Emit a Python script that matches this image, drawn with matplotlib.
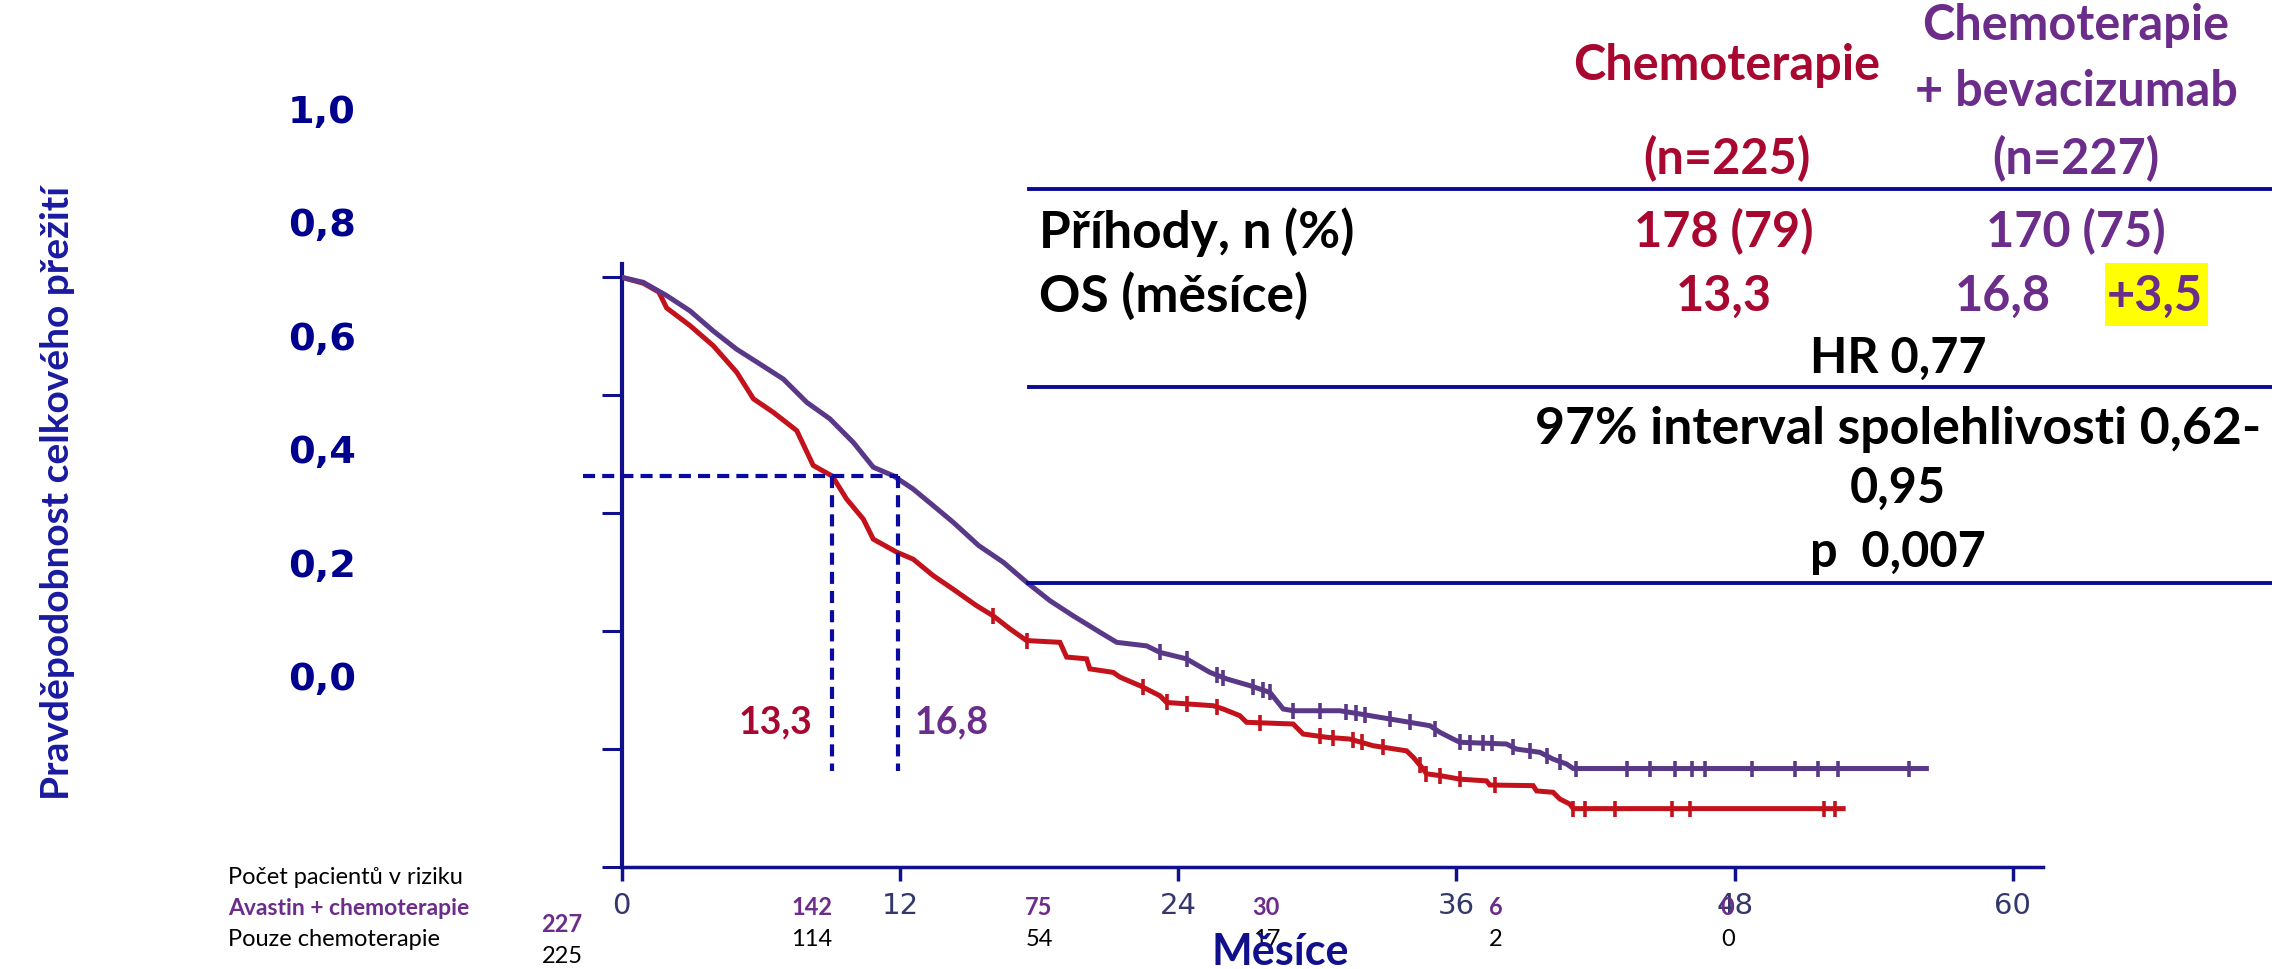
# Kaplan-Meier OS chart (chemoterapie vs chemoterapie + bevacizumab)
import numpy as np
import matplotlib.pyplot as plt
import matplotlib.transforms as mtransforms
from matplotlib.patches import Rectangle
from matplotlib.lines import Line2D

W, H = 2272, 970

# curve (months, survival on axis scale)
chemo_t = [0, 0.93, 1.6, 1.94, 2.95, 3.95, 4.96, 5.68, 6.54, 7.55, 8.26, 9.08, 9.70,
           10.42, 10.85, 11.86, 12.57, 13.44, 14.3, 15.31, 16.02, 16.74, 17.46, 18.9,
           19.19, 20.05, 20.19, 21.2, 21.49, 22.35, 23.21, 23.5, 25.51, 25.94, 26.66,
           26.95, 28.96, 29.39, 30.4, 31.4, 32.41, 33.85, 34.14, 34.57, 34.71, 35.29,
           36.15, 37.3, 37.44, 39.31, 39.46, 40.17, 40.46, 40.89, 41.04, 52.68]
chemo_s = [1.0, 0.99, 0.975, 0.948, 0.918, 0.884, 0.839, 0.794, 0.771, 0.740, 0.681,
           0.663, 0.624, 0.590, 0.556, 0.534, 0.522, 0.494, 0.471, 0.443, 0.426, 0.404,
           0.384, 0.381, 0.356, 0.353, 0.336, 0.330, 0.322, 0.3075, 0.2905, 0.279,
           0.2735, 0.268, 0.2566, 0.2454, 0.2425, 0.2255, 0.220, 0.217, 0.2057, 0.197,
           0.186, 0.166, 0.158, 0.155, 0.149, 0.146, 0.139, 0.138, 0.129, 0.1267,
           0.1153, 0.1068, 0.099, 0.099]
chemo_cens = [16.02, 17.46, 22.49, 23.5, 24.36, 25.66, 27.52, 30.11, 30.69, 31.55,
              31.91, 32.84, 34.42, 34.71, 35.29, 36.15, 37.66, 41.04, 41.54, 42.83,
              45.28, 46.07, 51.85, 52.33]

bev_t = [0, 0.93, 1.94, 2.95, 3.95, 4.96, 5.96, 6.97, 7.98, 8.98, 9.99, 10.85, 11.71,
         12.57, 13.44, 14.3, 15.4, 16.46, 17.46, 18.47, 19.47, 20.63, 21.35, 22.64,
         23.21, 24.36, 25.37, 26.09, 27.1, 27.96, 28.53, 28.96, 30.97, 31.84, 33.13,
         34.86, 35.29, 35.86, 36.15, 38.16, 38.59, 39.6, 40.17, 40.75, 41.04, 56.27]
bev_s = [1.0, 0.9915, 0.969, 0.943, 0.909, 0.878, 0.853, 0.8275, 0.788, 0.760, 0.720,
         0.678, 0.6636, 0.641, 0.6127, 0.5845, 0.545, 0.5167, 0.483, 0.4516, 0.426,
         0.398, 0.381, 0.375, 0.364, 0.353, 0.330, 0.319, 0.3075, 0.296, 0.268, 0.265,
         0.265, 0.2595, 0.251, 0.2396, 0.2284, 0.217, 0.2115, 0.2086, 0.200, 0.1945,
         0.183, 0.1747, 0.167, 0.167]
bev_cens = [23.21, 24.36, 25.66, 25.94, 27.24, 27.67, 27.96, 28.96, 30.11, 31.26,
            31.69, 32.05, 33.13, 33.99, 35.07, 36.15, 36.58, 37.15, 37.52, 38.45,
            39.17, 39.89, 40.46, 41.18, 43.34, 44.34, 45.42, 46.14, 46.71, 48.73,
            50.6, 51.61, 52.47, 55.5]

# median guide lines as drawn
median_level = 0.663
median_chemo_x = 9.09
median_bev_x = 11.91
guide_bottom = 0.162
guide_left = -1.67

x_ticks = [0, 12, 24, 36, 48, 60]
y_ticks = [0, 0.2, 0.4, 0.6, 0.8, 1.0]
y_labels_text = ['1,0', '0,8', '0,6', '0,4', '0,2', '0,0']

# at-risk table
risk_pos = [8.2, 18.0, 27.8, 37.7, 47.7]
risk_bev = [142, 75, 30, 6, 0]
risk_chemo = [114, 54, 17, 2, 0]
risk_bev0, risk_chemo0 = 227, 225

RED = '#c3121c'
PURPLE = '#5a3888'
RED_TXT = '#a8072f'
PUR_TXT = '#6b2c8a'
NAVY = '#10108c'
DASH = '#0a0aa0'
FONT = ['Lato', 'DejaVu Sans']

def fx(px):
    return px / W

def fy(py):
    return 1 - py / H

fig = plt.figure(figsize=(W / 100, H / 100), dpi=100)
fig.patch.set_facecolor('white')

ax = fig.add_axes([fx(621.7), fy(868), (2043 - 621.7) / W, (868 - 265) / H])
ax.set_xlim(0, 61.3)
ax.set_ylim(0, 1.0226)
for s in ['top', 'right']:
    ax.spines[s].set_visible(False)
ax.spines['left'].set_color(NAVY)
ax.spines['left'].set_linewidth(3)
ax.spines['bottom'].set_color(NAVY)
ax.spines['bottom'].set_linewidth(2.5)
ax.set_xticks(x_ticks)
ax.set_xticklabels([str(v) for v in x_ticks], fontsize=21, color='#33376a',
                   family='DejaVu Sans')
ax.set_yticks(y_ticks)
ax.set_yticklabels([])
ax.tick_params(axis='x', direction='out', length=10, width=2.5, color=NAVY, pad=7)
ax.tick_params(axis='y', direction='out', length=14.5, width=2.2, color=NAVY)

# curves
ax.plot(chemo_t, chemo_s, color=RED, lw=3.6, solid_joinstyle='miter', zorder=3)
ax.plot(bev_t, bev_s, color=PURPLE, lw=3.6, solid_joinstyle='miter', zorder=3)
ax.plot(chemo_cens, np.interp(chemo_cens, chemo_t, chemo_s), ls='none', marker='|',
        ms=12, mew=2.6, color=RED, zorder=4)
ax.plot(bev_cens, np.interp(bev_cens, bev_t, bev_s), ls='none', marker='|',
        ms=12, mew=2.6, color=PURPLE, zorder=4)

# median guides
dash = (0, (2.9, 1.7))
ax.plot([guide_left, median_bev_x], [median_level, median_level], color=DASH, lw=3,
        ls=dash, clip_on=False, zorder=5)
ax.plot([median_chemo_x, median_chemo_x], [median_level, guide_bottom], color=DASH,
        lw=3, ls=dash, zorder=5)
ax.plot([median_bev_x, median_bev_x], [median_level, guide_bottom], color=DASH,
        lw=3, ls=dash, zorder=5)
fig.text(fx(775), fy(722), '13,3', color=RED_TXT, fontsize=27, weight='bold',
         family=FONT, ha='center', va='center')
fig.text(fx(952), fy(722), '16,8', color=PUR_TXT, fontsize=27, weight='bold',
         family=FONT, ha='center', va='center')

# floating y labels and axis titles
for i, lab in enumerate(y_labels_text):
    fig.text(fx(322), fy(113 + i * 113.4), lab, color='#00008f', fontsize=27.5,
             weight='bold', family='DejaVu Sans', ha='center', va='center')
fig.text(fx(58), fy(493), 'Pravděpodobnost celkového přežití', rotation=90,
         color='#1a1aa0', fontsize=28, weight='bold', family=FONT,
         ha='center', va='center')
fig.text(fx(1280), fy(952), 'Měsíce', color='#10108c', fontsize=31, weight='bold',
         family=FONT, ha='center', va='center')

# results table
T = 35
fig.text(fx(1727), fy(65), 'Chemoterapie', color=RED_TXT, fontsize=T, weight='bold',
         family=FONT, ha='center', va='center')
fig.text(fx(2076), fy(26), 'Chemoterapie', color=PUR_TXT, fontsize=T, weight='bold',
         family=FONT, ha='center', va='center')
fig.text(fx(2076), fy(91), '+ bevacizumab', color=PUR_TXT, fontsize=T, weight='bold',
         family=FONT, ha='center', va='center')
fig.text(fx(1727), fy(159), '(n=225)', color=RED_TXT, fontsize=T, weight='bold',
         family=FONT, ha='center', va='center')
fig.text(fx(2076), fy(159), '(n=227)', color=PUR_TXT, fontsize=T, weight='bold',
         family=FONT, ha='center', va='center')
fig.text(fx(1039), fy(232), 'Příhody, n (%)', color='black', fontsize=T + 2,
         weight='bold', family=FONT, ha='left', va='center')
fig.text(fx(1724), fy(232), '178 (79)', color=RED_TXT, fontsize=T, weight='bold',
         family=FONT, ha='center', va='center')
fig.text(fx(2076), fy(232), '170 (75)', color=PUR_TXT, fontsize=T, weight='bold',
         family=FONT, ha='center', va='center')
fig.text(fx(1039), fy(296), 'OS (měsíce)', color='black', fontsize=T + 2,
         weight='bold', family=FONT, ha='left', va='center')
fig.text(fx(1724), fy(296), '13,3', color=RED_TXT, fontsize=T, weight='bold',
         family=FONT, ha='center', va='center')
fig.text(fx(2003), fy(296), '16,8', color=PUR_TXT, fontsize=T, weight='bold',
         family=FONT, ha='center', va='center')
fig.patches.append(Rectangle((fx(2105), fy(327)), (2208 - 2105) / W, (327 - 264) / H,
                             transform=fig.transFigure, facecolor='#ffff00',
                             edgecolor='none', zorder=1))
fig.text(fx(2155), fy(296), '+3,5', color=PUR_TXT, fontsize=T, weight='bold',
         family=FONT, ha='center', va='center', zorder=2)
fig.text(fx(1898), fy(358), 'HR 0,77', color='black', fontsize=T, weight='bold',
         family=FONT, ha='center', va='center')
fig.text(fx(1898), fy(430), '97% interval spolehlivosti 0,62-', color='black',
         fontsize=T + 2.3, weight='bold', family=FONT, ha='center', va='center')
fig.text(fx(1898), fy(488), '0,95', color='black', fontsize=T, weight='bold',
         family=FONT, ha='center', va='center')
fig.text(fx(1898), fy(553), 'p  0,007', color='black', fontsize=T, weight='bold',
         family=FONT, ha='center', va='center')
for y0, x0 in [(190, 1029), (388, 1029), (584, 1028)]:
    fig.add_artist(Line2D([fx(x0), 1.0], [fy(y0), fy(y0)], color='#0a0a96', lw=2.8,
                          transform=fig.transFigure))

# at-risk rows
R = 17
fig.text(fx(228), fy(878), 'Počet pacientů v riziku', color='black', fontsize=R,
         family=FONT, ha='left', va='center')
fig.text(fx(228), fy(909), 'Avastin + chemoterapie', color=PUR_TXT, fontsize=R - 0.5,
         weight='bold', family=FONT, ha='left', va='center')
fig.text(fx(228), fy(940), 'Pouze chemoterapie', color='black', fontsize=R,
         family=FONT, ha='left', va='center')
fig.text(fx(562), fy(925), str(risk_bev0), color=PUR_TXT, fontsize=R, weight='bold',
         family=FONT, ha='center', va='center')
fig.text(fx(562), fy(957), str(risk_chemo0), color='black', fontsize=R,
         family=FONT, ha='center', va='center')
trans = mtransforms.blended_transform_factory(ax.transData, fig.transFigure)
for xp, nb, nc in zip(risk_pos, risk_bev, risk_chemo):
    ax.text(xp, fy(908), str(nb), transform=trans, color=PUR_TXT, fontsize=R,
            weight='bold', family=FONT, ha='center', va='center', clip_on=False)
    ax.text(xp, fy(940), str(nc), transform=trans, color='black', fontsize=R,
            family=FONT, ha='center', va='center', clip_on=False)

plt.savefig('out.png', dpi=100)
